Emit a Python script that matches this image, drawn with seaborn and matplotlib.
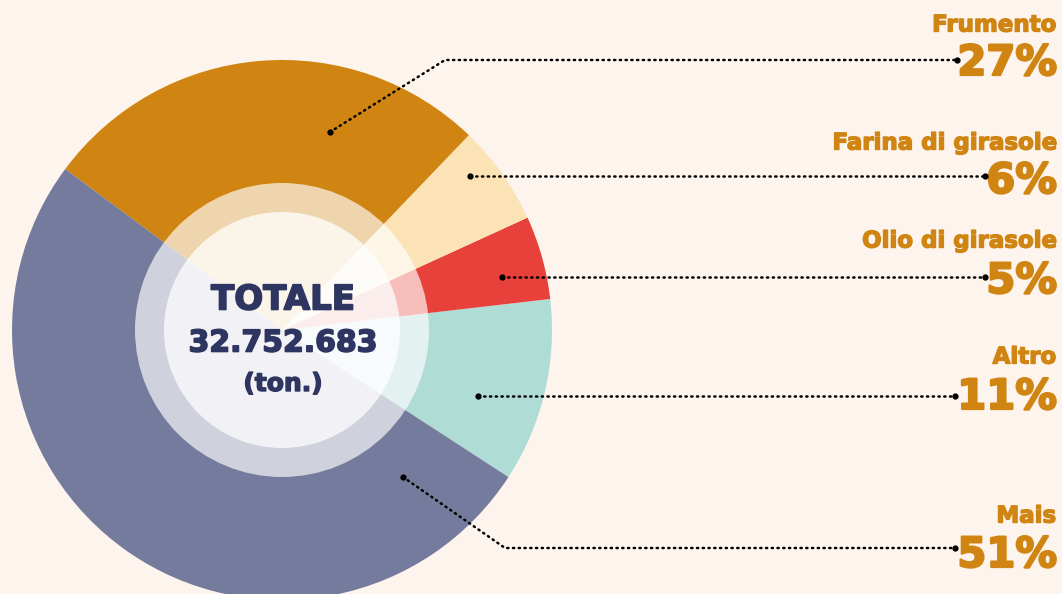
import matplotlib
matplotlib.use("Agg")
import matplotlib.pyplot as plt
import matplotlib.patheffects as pe
import seaborn as sns
from matplotlib.patches import Circle

# data
categories = ["Altro", "Olio di girasole", "Farina di girasole", "Frumento", "Mais"]
shares = [11, 5, 6, 27, 51]
colors = ["#b0dcd6", "#e8403a", "#fbe3b5", "#d08512", "#757b9c"]
total_label = "32.752.683"

sns.set_theme(style="white")
plt.rcParams["font.family"] = ["DejaVu Sans"]

bg = "#fdf4ee"
orange = "#d08512"
navy = "#2e3561"

W, H = 1062, 594
fig = plt.figure(figsize=(W / 100, H / 100), dpi=100, facecolor=bg)
ax = fig.add_axes([0, 0, 1, 1])
ax.set_facecolor(bg)

cx, cy, R = 282, H - 330, 270
ax.pie(shares, colors=colors, startangle=-33, counterclock=True,
       center=(cx, cy), radius=R, frame=True,
       wedgeprops=dict(linewidth=0))
ax.set_xlim(0, W)
ax.set_ylim(0, H)
ax.set_aspect("equal")
ax.axis("off")

# translucent white circles in the middle
ax.add_patch(Circle((cx, cy), 147, facecolor="white", alpha=0.66, lw=0, zorder=3))
ax.add_patch(Circle((cx, cy), 118, facecolor="white", alpha=0.74, lw=0, zorder=4))


def heavy(color, w=1.0):
    # thicken the bold glyphs a little
    return [pe.withStroke(linewidth=w, foreground=color)]


ax.text(cx + 1, H - 300, "TOTALE", ha="center", va="center", fontsize=24.5,
        fontweight="bold", color=navy, zorder=5, path_effects=heavy(navy, 1.2))
ax.text(cx + 1, H - 343, total_label, ha="center", va="center", fontsize=21.5,
        fontweight="bold", color=navy, zorder=5, path_effects=heavy(navy, 1.2))
ax.text(cx + 1, H - 384, "(ton.)", ha="center", va="center", fontsize=18,
        fontweight="bold", color=navy, zorder=5, path_effects=heavy(navy, 1.0))

# leader lines (pixel positions: start, optional elbow, end) and label rows
leaders = {
    "Frumento": [(330, 132), (445, 60), (957, 60)],
    "Farina di girasole": [(470, 176), (985, 176)],
    "Olio di girasole": [(502, 277), (985, 277)],
    "Altro": [(478, 396), (955, 396)],
    "Mais": [(403, 477), (505, 548), (955, 548)],
}
label_y = {
    "Frumento": (25, 63),
    "Farina di girasole": (143, 181),
    "Olio di girasole": (241, 281),
    "Altro": (357, 397),
    "Mais": (516, 555),
}

for name, share in zip(categories, shares):
    pts = leaders[name]
    xs = [p[0] for p in pts]
    ys = [H - p[1] for p in pts]
    ax.plot(xs, ys, color="black", lw=1.8, ls=(0, (0.5, 1.8)),
            dash_capstyle="round", zorder=6)
    ax.plot([xs[0], xs[-1]], [ys[0], ys[-1]], "o", color="black", ms=3.5, zorder=6)
    ny, py = label_y[name]
    ax.text(1056, H - ny, name, ha="right", va="center", fontsize=16.5,
            fontweight="bold", color=orange, path_effects=heavy(orange, 1.0))
    ax.text(1057, H - py, f"{share}%", ha="right", va="center", fontsize=30,
            fontweight="bold", color=orange, path_effects=heavy(orange, 1.6))

fig.savefig("out.png", dpi=100, facecolor=bg)
